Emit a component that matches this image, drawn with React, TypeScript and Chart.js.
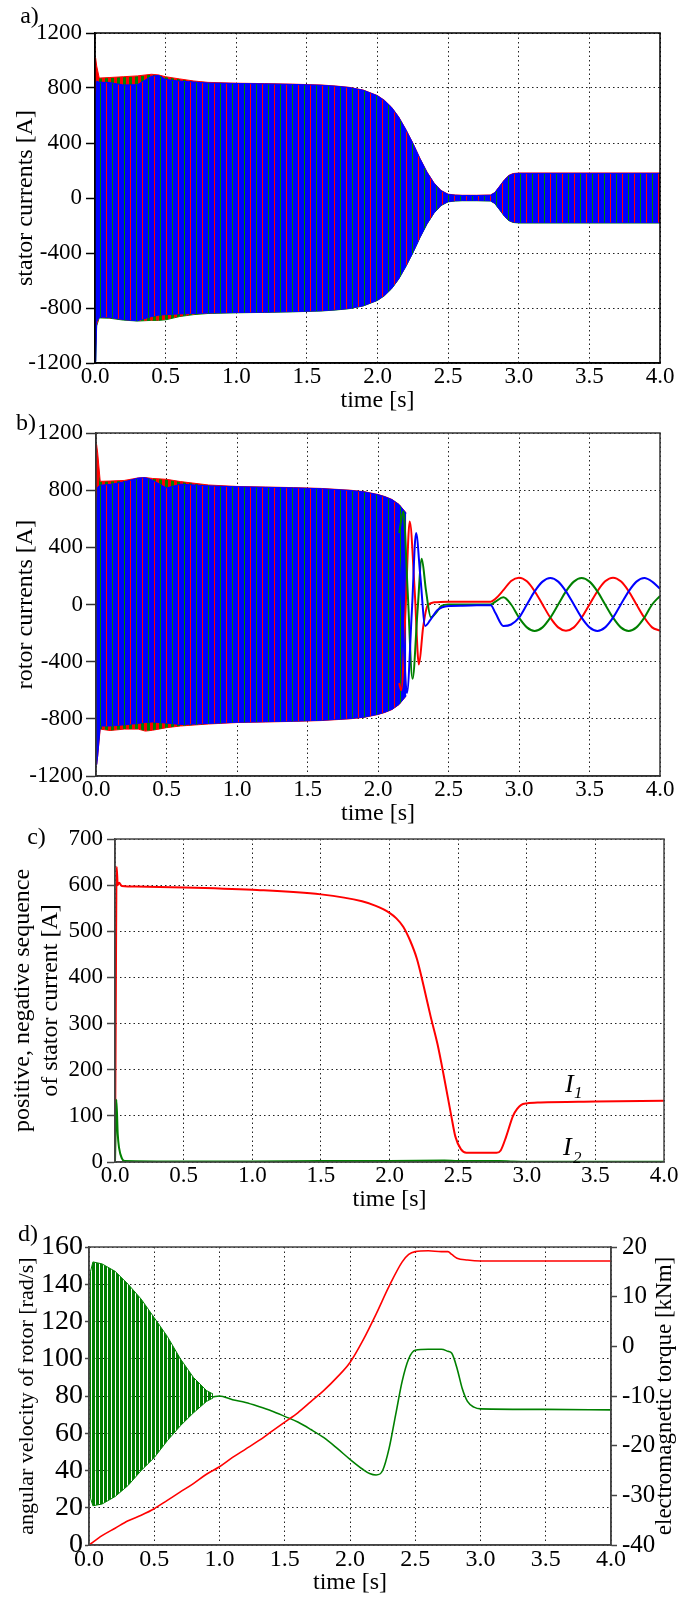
import React, { useEffect, useRef } from "react";
import { Chart, registerables } from "chart.js";

Chart.register(...registerables);

const W = 690;
const H = 1604;
const FONT = "'Liberation Serif', 'Times New Roman', Times, serif";
const RED = "#ff0000";
const GREEN = "#008000";
const BLUE = "#0000ff";
const GRID = "#222222";

// ---------------- data ----------------
const timeTicks = [0, 0.5, 1, 1.5, 2, 2.5, 3, 3.5, 4];
const aYTicks = [-1200, -800, -400, 0, 400, 800, 1200];
const bYTicks = [-1200, -800, -400, 0, 400, 800, 1200];
const cYTicks = [0, 100, 200, 300, 400, 500, 600, 700];
const dSpeedTicks = [0, 20, 40, 60, 80, 100, 120, 140, 160];
const dTorqueTicks = [-40, -30, -20, -10, 0, 10, 20];

// a) stator currents: envelope of the dense 50 Hz oscillation (all phases / blue phase)
const aTime = [0, 0.004, 0.012, 0.03, 0.1, 0.2, 0.3, 0.4, 0.45, 0.5, 0.6, 0.7, 0.8, 1.0, 1.2, 1.4, 1.6, 1.7, 1.8, 1.9, 2.0, 2.05, 2.1, 2.15, 2.2, 2.25, 2.3, 2.35, 2.4, 2.45, 2.5, 2.55, 2.6, 2.7, 2.8, 2.83, 2.86, 2.9, 2.93, 2.96, 3.0, 3.5, 4.0];
const aAllUpper = [0, 1020, 960, 872, 876, 882, 888, 900, 895, 882, 866, 851, 841, 835, 832, 828, 822, 815, 805, 785, 745, 710, 660, 590, 500, 400, 290, 190, 110, 55, 28, 22, 20, 20, 22, 40, 80, 135, 165, 178, 182, 182, 182];
const aAllLower = [0, -1190, -930, -872, -874, -888, -895, -890, -890, -886, -862, -848, -840, -835, -832, -828, -822, -815, -805, -785, -745, -710, -660, -590, -500, -400, -290, -190, -110, -55, -28, -22, -20, -20, -22, -40, -80, -135, -165, -178, -182, -182, -182];
const aBlueUpper = [0, 720, 850, 842, 840, 822, 824, 885, 892, 862, 850, 843, 836, 833, 830, 826, 820, 813, 803, 783, 743, 708, 658, 588, 498, 398, 288, 188, 108, 53, 26, 20, 18, 18, 20, 38, 78, 132, 162, 175, 179, 179, 179];
const aBlueLower = [0, -1190, -900, -866, -868, -884, -893, -862, -852, -848, -843, -840, -836, -833, -830, -826, -820, -813, -803, -783, -743, -708, -658, -588, -498, -398, -288, -188, -108, -53, -26, -20, -18, -18, -20, -38, -78, -132, -162, -175, -179, -179, -179];

// b) rotor currents: dense envelope, then individual phase traces
const bTime = [0, 0.004, 0.012, 0.03, 0.1, 0.2, 0.3, 0.35, 0.4, 0.5, 0.6, 0.8, 1.0, 1.2, 1.4, 1.6, 1.8, 1.9, 2.0, 2.05, 2.1, 2.15, 2.2];
const bAllUpper = [0, 1120, 1060, 862, 864, 868, 886, 888, 882, 876, 860, 836, 826, 822, 818, 812, 800, 790, 770, 755, 735, 700, 640];
const bAllLower = [0, -1120, -1060, -872, -882, -872, -872, -886, -880, -862, -850, -836, -826, -822, -818, -812, -800, -790, -770, -755, -735, -700, -640];
const bBlueUpper = [0, 700, 820, 835, 840, 858, 885, 887, 870, 815, 842, 830, 824, 820, 816, 810, 798, 788, 768, 753, 733, 698, 638];
const bBlueLower = [0, -1120, -1060, -850, -850, -842, -832, -825, -822, -830, -840, -832, -824, -820, -816, -810, -798, -788, -768, -753, -733, -698, -638];

const bRedTime = [2.15, 2.165, 2.195, 2.225, 2.26, 2.29, 2.32, 2.35, 2.4, 2.5, 2.6, 2.7, 2.8, 2.833, 2.889, 2.944, 3.0, 3.056, 3.111, 3.167, 3.222, 3.278, 3.333, 3.389, 3.444, 3.5, 3.556, 3.611, 3.667, 3.722, 3.778, 3.833, 3.889, 3.944, 4.0];
const bRed = [-550, -600, -40, 580, 100, -420, -160, -10, 15, 20, 20, 20, 20, 40, 100, 165, 188, 162, 93, 0, -92, -160, -183, -160, -92, 0, 93, 162, 188, 162, 93, 0, -92, -160, -183];
const bBlueTime = [2.15, 2.175, 2.205, 2.24, 2.27, 2.3, 2.335, 2.37, 2.42, 2.5, 2.6, 2.7, 2.8, 2.833, 2.889, 2.944, 3.0, 3.056, 3.111, 3.167, 3.222, 3.278, 3.333, 3.389, 3.444, 3.5, 3.556, 3.611, 3.667, 3.722, 3.778, 3.833, 3.889, 3.944, 4.0];
const bBlue = [300, -100, -620, -50, 500, 200, -150, -110, -40, -10, -8, -6, -5, -60, -150, -140, -92, 0, 92, 160, 185, 160, 92, 0, -92, -160, -185, -160, -92, 0, 92, 160, 185, 160, 110];
const bGreenTime = [2.15, 2.18, 2.21, 2.245, 2.28, 2.31, 2.34, 2.375, 2.41, 2.45, 2.5, 2.6, 2.7, 2.8, 2.833, 2.889, 2.944, 3.0, 3.056, 3.111, 3.167, 3.222, 3.278, 3.333, 3.389, 3.444, 3.5, 3.556, 3.611, 3.667, 3.722, 3.778, 3.833, 3.889, 3.944, 4.0];
const bGreen = [500, 650, 100, -520, -50, 320, 100, -90, -60, -10, 0, 0, 0, 0, 20, 50, 0, -92, -160, -185, -160, -92, 0, 92, 160, 185, 160, 92, 0, -92, -160, -185, -160, -92, 0, 60];

// c) positive (I1) and negative (I2) sequence of stator current
const cI1Time = [0, 0.005, 0.012, 0.02, 0.03, 0.05, 0.1, 0.5, 1.0, 1.5, 1.8, 1.9, 2.0, 2.05, 2.1, 2.15, 2.2, 2.25, 2.3, 2.35, 2.4, 2.45, 2.48, 2.52, 2.56, 2.7, 2.78, 2.81, 2.85, 2.9, 2.93, 2.96, 3.0, 3.1, 3.5, 4.0];
const cI1 = [0, 300, 640, 600, 605, 598, 597, 595, 590, 580, 565, 555, 540, 528, 510, 480, 440, 380, 315, 255, 180, 100, 55, 28, 20, 20, 20, 25, 55, 100, 115, 124, 127, 129, 131, 133];
const cI2Time = [0, 0.005, 0.01, 0.02, 0.03, 0.05, 0.07, 0.5, 1.0, 1.5, 2.0, 2.4, 2.5, 2.8, 2.9, 3.0, 4.0];
const cI2 = [0, 80, 135, 60, 30, 8, 2, 1, 1, 2, 2, 3, 2, 2, 1, 0.5, 0.5];

// d) angular velocity [rad/s] and electromagnetic torque [kNm]
const dSpeedTime = [0, 0.1, 0.2, 0.3, 0.4, 0.5, 0.6, 0.7, 0.8, 0.9, 1.0, 1.1, 1.2, 1.3, 1.4, 1.5, 1.6, 1.7, 1.8, 1.9, 2.0, 2.1, 2.2, 2.3, 2.4, 2.45, 2.5, 2.6, 2.7, 2.75, 2.78, 2.82, 2.9, 3.0, 3.5, 4.0];
const dSpeed = [0, 5, 9, 13, 16, 19.5, 24, 28.5, 33, 38, 42, 47, 51.5, 56, 61, 66, 71, 77, 83, 90, 98, 110, 124, 139, 152, 156, 157.5, 158, 157.5, 157.5, 156, 154, 153, 152.5, 152.5, 152.5];
const dBandTime = [0, 0.005, 0.012, 0.03, 0.1, 0.2, 0.3, 0.4, 0.5, 0.6, 0.7, 0.8, 0.9, 0.95];
const dBandUpper = [-0.5, -0.5, 15.1, 17, 16.6, 15.1, 12.5, 9.5, 5.75, 2, -2.5, -6.25, -8.9, -9.6];
const dBandLower = [-0.5, -2, -30.6, -32.1, -31.75, -30.25, -28, -25, -22.4, -19, -16, -13.4, -11.1, -10.4];
const dTorqueTime = [0.95, 1.0, 1.1, 1.2, 1.3, 1.4, 1.5, 1.6, 1.7, 1.8, 1.9, 2.0, 2.1, 2.15, 2.2, 2.25, 2.3, 2.35, 2.4, 2.45, 2.5, 2.6, 2.7, 2.75, 2.78, 2.82, 2.86, 2.9, 2.95, 3.0, 3.5, 4.0];
const dTorque = [-10.2, -10, -10.75, -11.3, -12.1, -13, -14.1, -15.25, -16.75, -18.4, -20.5, -22.75, -24.8, -25.6, -25.9, -25, -20.5, -13.75, -7, -2.5, -0.8, -0.6, -0.6, -1, -1.4, -4.4, -8.5, -11.1, -12.25, -12.6, -12.7, -12.8];

// ---------------- layout ----------------
type Geom = { left: number; right: number; top: number; bottom: number };
const GEOM_A: Geom = { left: 95, right: 660, top: 33, bottom: 363 };
const GEOM_B: Geom = { left: 96, right: 660, top: 433, bottom: 776 };
const GEOM_C: Geom = { left: 115, right: 664, top: 839, bottom: 1162 };
const GEOM_D: Geom = { left: 89, right: 611, top: 1247, bottom: 1545 };
const X_AXIS_H = 52;

function xy(ts: number[], vs: number[]) {
  return ts.map((t, i) => ({ x: t, y: vs[i] }));
}

function stripes(ctx: CanvasRenderingContext2D, cols: (string | null)[]) {
  const c = document.createElement("canvas");
  c.width = cols.length;
  c.height = 1;
  const g = c.getContext("2d")!;
  cols.forEach((col, i) => {
    if (col) {
      g.fillStyle = col;
      g.fillRect(i, 0, 1, 1);
    }
  });
  return ctx.createPattern(c, "repeat")!;
}

type TextItem = {
  text: string; x: number; y: number; size: number; italic?: boolean;
  align?: CanvasTextAlign; baseline?: CanvasTextBaseline; rotate?: boolean;
};

function decorPlugin(frameColor: string, texts: TextItem[]) {
  return {
    id: "decor",
    afterDatasetsDraw(chart: any) {
      const { ctx, chartArea: a } = chart;
      ctx.save();
      ctx.strokeStyle = frameColor;
      ctx.lineWidth = 1.5;
      ctx.setLineDash([]);
      ctx.strokeRect(a.left, a.top, a.right - a.left, a.bottom - a.top);
      ctx.restore();
    },
    afterDraw(chart: any) {
      const ctx = chart.ctx as CanvasRenderingContext2D;
      texts.forEach((t) => {
        ctx.save();
        ctx.fillStyle = "#000";
        ctx.font = `${t.italic ? "italic " : ""}${t.size}px ${FONT}`;
        ctx.textAlign = t.align ?? "center";
        ctx.textBaseline = t.baseline ?? "middle";
        ctx.translate(t.x, t.y);
        if (t.rotate) ctx.rotate(-Math.PI / 2);
        ctx.fillText(t.text, 0, 0);
        ctx.restore();
      });
    },
  };
}

function timeAxis(frame: string, tickSize: number) {
  return {
    type: "linear",
    position: "bottom",
    min: 0,
    max: 4,
    afterBuildTicks: (s: any) => {
      s.ticks = timeTicks.map((v) => ({ value: v }));
    },
    ticks: {
      color: "#000",
      font: { family: FONT, size: tickSize },
      padding: 0,
      maxRotation: 0,
      autoSkip: false,
      callback: (v: any) => Number(v).toFixed(1),
    },
    grid: { color: GRID, lineWidth: 1, drawTicks: false },
    border: { color: frame, width: 1.5, dash: [1.5, 3] },
    title: {
      display: true,
      text: "time [s]",
      color: "#000",
      font: { family: FONT, size: 24 },
      padding: { top: 0, bottom: 0 },
    },
    afterFit: (s: any) => {
      s.height = X_AXIS_H;
    },
  };
}

function valueAxis(o: {
  min: number; max: number; ticks: number[]; width: number; tickLen: number; pad: number;
  tickSize: number; frame: string; title?: string | string[]; titlePad?: number; titleLH?: number;
  titleSize?: number; position?: string; gridOn?: boolean;
}) {
  return {
    type: "linear",
    position: o.position ?? "left",
    min: o.min,
    max: o.max,
    afterBuildTicks: (s: any) => {
      s.ticks = o.ticks.map((v) => ({ value: v }));
    },
    ticks: {
      color: "#000",
      font: { family: FONT, size: o.tickSize },
      padding: o.pad,
      autoSkip: false,
      callback: (v: any) => String(v),
    },
    grid: {
      color: GRID,
      lineWidth: 1,
      drawTicks: true,
      tickLength: o.tickLen,
      tickColor: o.frame,
      tickWidth: 1.5,
      tickBorderDash: [],
      drawOnChartArea: o.gridOn ?? true,
    },
    border: { color: o.frame, width: 1.5, dash: [1.5, 3] },
    title: o.title
      ? {
          display: true,
          text: o.title,
          color: "#000",
          font: { family: FONT, size: o.titleSize ?? 24, lineHeight: o.titleLH ?? 1.2 },
          padding: { top: o.titlePad ?? 0, bottom: 0 },
        }
      : { display: false },
    afterFit: (s: any) => {
      s.width = o.width;
    },
  };
}

function baseOptions(g: Geom, scales: any, rightAxisW = 0) {
  return {
    responsive: false,
    maintainAspectRatio: false,
    animation: false,
    devicePixelRatio: 1,
    events: [],
    layout: {
      padding: {
        left: 0,
        right: W - g.right - rightAxisW,
        top: g.top,
        bottom: H - g.bottom - X_AXIS_H,
      },
    },
    plugins: { legend: { display: false }, tooltip: { enabled: false } },
    elements: { point: { radius: 0 }, line: { tension: 0 } },
    scales,
  };
}

function band(upper: any[], lower: any[], fillPat: any, upColor: string, lowColor: string, order: number, yAxisID = "y") {
  return [
    { data: upper, borderColor: upColor, borderWidth: 1, backgroundColor: fillPat, fill: "+1", pointRadius: 0, order, yAxisID },
    { data: lower, borderColor: lowColor, borderWidth: 1, backgroundColor: lowColor, fill: false, pointRadius: 0, order, yAxisID },
  ];
}

function line(data: any[], color: string, width: number, order: number, yAxisID = "y", smooth = false) {
  return {
    data, borderColor: color, backgroundColor: color, borderWidth: width, pointRadius: 0,
    fill: false, order, yAxisID, cubicInterpolationMode: smooth ? "monotone" : "default",
    tension: smooth ? 0.4 : 0,
  };
}

const BLUE_STRIPES = [BLUE, BLUE, BLUE, BLUE, GREEN, BLUE, BLUE, BLUE, BLUE, BLUE, RED, BLUE];
const RG_STRIPES = [RED, RED, RED, GREEN, GREEN, GREEN];

function buildA(canvas: HTMLCanvasElement) {
  const ctx = canvas.getContext("2d")!;
  const bluePat = stripes(ctx, BLUE_STRIPES);
  const rgPat = stripes(ctx, RG_STRIPES);
  const frame = "#000";
  return new Chart(canvas, {
    type: "line",
    data: {
      datasets: [
        ...band(xy(aTime, aBlueUpper), xy(aTime, aBlueLower), bluePat, BLUE, BLUE, 0),
        ...band(xy(aTime, aAllUpper), xy(aTime, aAllLower), rgPat, RED, GREEN, 1),
      ],
    },
    options: baseOptions(GEOM_A, {
      x: timeAxis(frame, 23),
      y: valueAxis({
        min: -1200, max: 1200, ticks: aYTicks, width: GEOM_A.left, tickLen: 9, pad: 4, tickSize: 23,
        frame, title: "stator currents [A]", titlePad: 11.6,
      }),
    }) as any,
    plugins: [decorPlugin(frame, [{ text: "a)", x: 29.5, y: 17, size: 24 }])],
  });
}

function buildB(canvas: HTMLCanvasElement) {
  const ctx = canvas.getContext("2d")!;
  const bluePat = stripes(ctx, BLUE_STRIPES);
  const rgPat = stripes(ctx, RG_STRIPES);
  const frame = "#333";
  return new Chart(canvas, {
    type: "line",
    data: {
      datasets: [
        line(xy(bBlueTime, bBlue), BLUE, 2, -3, "y", true),
        line(xy(bGreenTime, bGreen), GREEN, 2, -2, "y", true),
        line(xy(bRedTime, bRed), RED, 2, -1, "y", true),
        ...band(xy(bTime, bBlueUpper), xy(bTime, bBlueLower), bluePat, BLUE, BLUE, 0),
        ...band(xy(bTime, bAllUpper), xy(bTime, bAllLower), rgPat, RED, RED, 1),
      ],
    },
    options: baseOptions(GEOM_B, {
      x: timeAxis(frame, 23),
      y: valueAxis({
        min: -1200, max: 1200, ticks: bYTicks, width: GEOM_B.left, tickLen: 10, pad: 3, tickSize: 23,
        frame, title: "rotor currents [A]", titlePad: 11.6,
      }),
    }) as any,
    plugins: [decorPlugin(frame, [{ text: "b)", x: 26, y: 424, size: 24 }])],
  });
}

function buildC(canvas: HTMLCanvasElement) {
  const frame = "#444";
  return new Chart(canvas, {
    type: "line",
    data: {
      datasets: [
        line(xy(cI2Time, cI2), GREEN, 2, 0, "y", true),
        line(xy(cI1Time, cI1), RED, 2, 1, "y", true),
      ],
    },
    options: baseOptions(GEOM_C, {
      x: timeAxis(frame, 23),
      y: valueAxis({
        min: 0, max: 700, ticks: cYTicks, width: GEOM_C.left, tickLen: 8, pad: 4, tickSize: 23,
        frame, title: ["positive, negative sequence", "of stator current [A]"], titlePad: 9.2, titleLH: 1.15,
      }),
    }) as any,
    plugins: [
      decorPlugin(frame, [
        { text: "c)", x: 36.5, y: 838, size: 24 },
        { text: "I", x: 565, y: 1092, size: 26, italic: true, align: "left", baseline: "alphabetic" },
        { text: "1", x: 574, y: 1098, size: 17, italic: true, align: "left", baseline: "alphabetic" },
        { text: "I", x: 563, y: 1155, size: 26, italic: true, align: "left", baseline: "alphabetic" },
        { text: "2", x: 573, y: 1163, size: 17, italic: true, align: "left", baseline: "alphabetic" },
      ]),
    ],
  });
}

function buildD(canvas: HTMLCanvasElement) {
  const ctx = canvas.getContext("2d")!;
  const greenPat = stripes(ctx, [GREEN, GREEN, GREEN, null]);
  const frame = "#444";
  const rightW = W - GEOM_D.right;
  return new Chart(canvas, {
    type: "line",
    data: {
      datasets: [
        line(xy(dSpeedTime, dSpeed), RED, 1.6, 0, "y", true),
        line(xy(dTorqueTime, dTorque), GREEN, 1.6, 1, "y1", true),
        ...band(xy(dBandTime, dBandUpper), xy(dBandTime, dBandLower), greenPat, GREEN, GREEN, 2, "y1"),
      ],
    },
    options: baseOptions(
      GEOM_D,
      {
        x: timeAxis(frame, 24),
        y: valueAxis({
          min: 0, max: 160, ticks: dSpeedTicks, width: GEOM_D.left, tickLen: 4, pad: 2, tickSize: 28,
          frame, title: "angular velocity of rotor [rad/s]", titlePad: 13.8, titleSize: 22,
        }),
        y1: valueAxis({
          min: -40, max: 20, ticks: dTorqueTicks, width: rightW, tickLen: 6, pad: 5, tickSize: 25,
          frame, position: "right", gridOn: false,
        }),
      },
      rightW
    ) as any,
    plugins: [
      decorPlugin(frame, [
        { text: "d)", x: 28, y: 1235, size: 24 },
        { text: "electromagnetic torque [kNm]", x: 665, y: 1396, size: 23, rotate: true },
      ]),
    ],
  });
}

export default function App() {
  const rA = useRef<HTMLCanvasElement>(null);
  const rB = useRef<HTMLCanvasElement>(null);
  const rC = useRef<HTMLCanvasElement>(null);
  const rD = useRef<HTMLCanvasElement>(null);

  useEffect(() => {
    const charts = [buildA(rA.current!), buildB(rB.current!), buildC(rC.current!), buildD(rD.current!)];
    return () => charts.forEach((c) => c.destroy());
  }, []);

  const cs: React.CSSProperties = { position: "absolute", left: 0, top: 0, width: W, height: H };
  return (
    <div style={{ position: "absolute", left: 0, top: 0, width: W, height: H, background: "#fff", overflow: "hidden" }}>
      <canvas ref={rA} width={W} height={H} style={cs} />
      <canvas ref={rB} width={W} height={H} style={cs} />
      <canvas ref={rC} width={W} height={H} style={cs} />
      <canvas ref={rD} width={W} height={H} style={cs} />
    </div>
  );
}
